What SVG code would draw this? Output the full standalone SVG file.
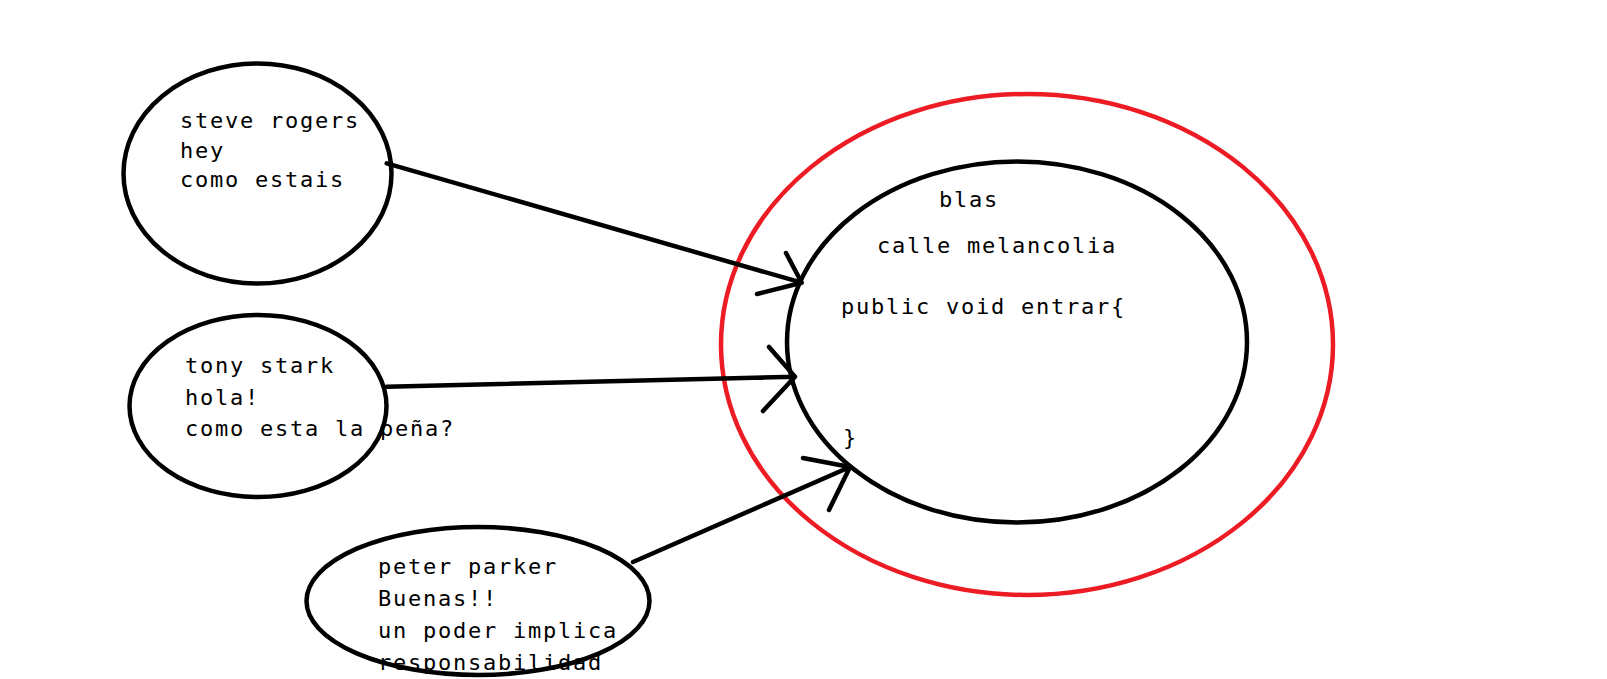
<svg xmlns="http://www.w3.org/2000/svg" width="1607" height="679" viewBox="0 0 1607 679">
<style>
.t{font-family:"DejaVu Sans Mono","Liberation Mono",monospace;font-size:22px;letter-spacing:1.75px;fill:#000}
.e{fill:none;stroke:#000;stroke-width:4.5}
.r{fill:none;stroke:#ed1c24;stroke-width:4.5}
.c{fill:none;stroke:#000;stroke-width:4.5;stroke-linecap:round;stroke-linejoin:round}
</style>
<rect width="1607" height="679" fill="#fff"/>
<g id="container">
<ellipse class="r" cx="1027" cy="344.5" rx="306" ry="250.5"/>
</g>
<g id="blas">
<text class="t" x="939" y="207">blas</text>
<text class="t" x="877" y="253">calle melancolia</text>
<text class="t" x="841" y="314">public void entrar{</text>
<text class="t" x="843" y="445">}</text>
<ellipse class="e" cx="1017" cy="342" rx="230" ry="180.5"/>
</g>
<g id="steve">
<text class="t" x="180" y="128">steve rogers</text>
<text class="t" x="180" y="157.5">hey</text>
<text class="t" x="180" y="187">como estais</text>
<ellipse class="e" cx="257.5" cy="173.5" rx="134" ry="110"/>
</g>
<g id="tony">
<text class="t" x="185" y="373">tony stark</text>
<text class="t" x="185" y="404.5">hola!</text>
<text class="t" x="185" y="436">como esta la peña?</text>
<ellipse class="e" cx="258" cy="406" rx="128.5" ry="91"/>
</g>
<g id="peter">
<text class="t" x="378" y="574">peter parker</text>
<text class="t" x="378" y="606">Buenas!!</text>
<text class="t" x="378" y="638">un poder implica</text>
<text class="t" x="378" y="670">responsabilidad</text>
<ellipse class="e" cx="478" cy="601" rx="171.5" ry="74"/>
</g>
<g id="connectors">
<path class="c" d="M386.7 163.3 L801.7 282.7 M786 253 L801.7 282.7 L757 294"/>
<path class="c" d="M386.7 386.7 L795 376.7 M769 347 L795 376.7 L763 411"/>
<path class="c" d="M633 562 L850 467 M803 458 L850 467 L829 510"/>
</g>
</svg>
